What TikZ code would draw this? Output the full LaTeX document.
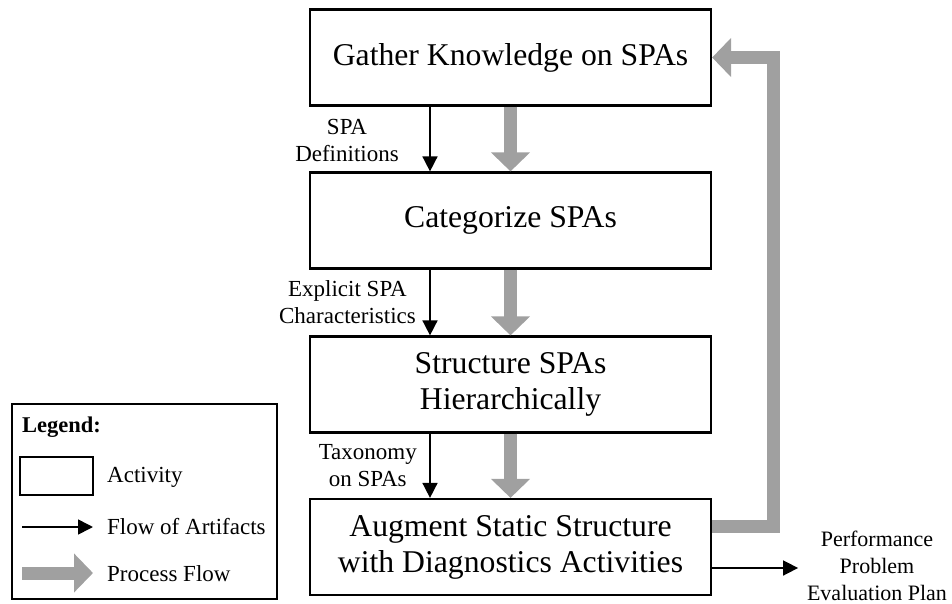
\documentclass[tikz,border=0pt]{standalone}
\usepackage{fontspec}
\setmainfont{Liberation Serif}
\usetikzlibrary{arrows.meta}
\definecolor{procgray}{RGB}{160,160,160}

\begin{document}
\begin{tikzpicture}[x=1pt,y=-1pt,
  activity/.style={draw, line width=2.2pt, minimum width=401pt, minimum height=96pt,
    align=center, font=\fontsize{31.7}{36}\selectfont, inner sep=0pt},
  flow/.style={line width=1.6pt, -{Triangle[length=15pt,width=15pt]}},
  process/.style={draw=procgray, line width=13pt, line join=miter,
    -{Triangle[length=19pt,width=38pt]}},
  artifact/.style={font=\fontsize{23}{27}\selectfont, align=center, inner sep=0pt},
]
\useasboundingbox (0,0) rectangle (952,604);

% activities
\node[activity] (b1) at (510.5,57.5)  {Gather Knowledge on SPAs};
\node[activity] (b2) at (510.5,220.5) {Categorize SPAs};
\node[activity] (b3) at (510.5,384.5) {Structure SPAs\\Hierarchically};
\node[activity] (b4) at (510.5,547)   {Augment Static Structure\\with Diagnostics Activities};

% process flow
\draw[process] (b1.south) -- (b2.north);
\draw[process] (b2.south) -- (b3.north);
\draw[process] (b3.south) -- (b4.north);
\draw[process] ([yshift=21pt]b4.east) -- ++(61,0) |- (b1.east);

% flow of artifacts
\draw[flow] ([xshift=-80.5pt]b1.south) -- ([xshift=-80.5pt]b2.north);
\draw[flow] ([xshift=-80.5pt]b2.south) -- ([xshift=-80.5pt]b3.north);
\draw[flow] ([xshift=-80.5pt]b3.south) -- ([xshift=-80.5pt]b4.north);

\node[artifact] (l1) at (347,140) {SPA\\Definitions};
\node[artifact, anchor=east] (l2) at (416,302.5) {Explicit SPA\\Characteristics};
\node[artifact, anchor=east] (l3) at (417,465.5) {Taxonomy\\on SPAs};

\node[artifact, font=\fontsize{22}{27}\selectfont] (out) at (877,566)
  {Performance\\Problem\\Evaluation Plan};
\draw[flow] ([yshift=-21pt]b4.east) -- ++(86,0) coordinate (outend);

% legend
\node[draw, line width=1.8pt, minimum width=265pt, minimum height=195pt, inner sep=0pt]
  (legend) at (144.5,501.5) {};
\node[font=\bfseries\fontsize{22.5}{27}\selectfont, anchor=west, inner sep=0pt]
  (lgtitle) at (22,427) {Legend:};
\node[draw, line width=1.8pt, minimum width=73pt, minimum height=38pt, inner sep=0pt]
  (lgact) at (56.5,476) {};
\node[artifact, anchor=west] (lgacttext) at (107,477) {Activity};
\coordinate (lgf1) at (22,527);
\coordinate (lgf2) at (93,527);
\draw[flow] (lgf1) -- (lgf2);
\node[artifact, anchor=west] (lgflowtext) at (107,527) {Flow of Artifacts};
\coordinate (lgp1) at (22,573);
\coordinate (lgp2) at (93,573);
\draw[process] (lgp1) -- (lgp2);
\node[artifact, anchor=west] (lgproctext) at (107,574) {Process Flow};
\end{tikzpicture}
\end{document}
